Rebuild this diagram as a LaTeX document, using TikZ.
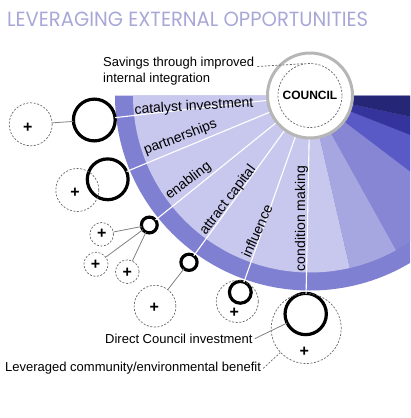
\documentclass[tikz,border=0pt]{standalone}
\usepackage{fontspec}
\setmainfont{Liberation Sans}
\newfontfamily\titlefont{Poppins}
\usepackage{graphicx}
\usepackage{xcolor}
\definecolor{lavender}{RGB}{200,200,238}
\definecolor{rimblue}{RGB}{128,128,210}
\definecolor{fanA}{RGB}{166,166,224}
\definecolor{fanB}{RGB}{134,134,213}
\definecolor{fanC}{RGB}{90,90,198}
\definecolor{fanD}{RGB}{52,52,156}
\definecolor{fanE}{RGB}{38,38,118}
\definecolor{titleblue}{RGB}{168,168,216}
\definecolor{rimgray}{RGB}{182,182,182}

\begin{document}
\begin{tikzpicture}[x=1pt, y=1pt]

        % Styles for the picture
        \tikzset{invest/.style={circle, draw=black, line width=3.2pt, inner sep=0pt, outer sep=0pt},
                 benefit/.style={circle, draw=black!60, dash pattern=on 2pt off 1.6pt, line width=0.7pt, inner sep=0pt},
                 plussign/.style={font=\bfseries\fontsize{16}{16}\selectfont, inner sep=0pt},
                 linkline/.style={draw=black!50, line width=0.8pt},
                 divider/.style={draw=white, line width=1.1pt},
                 sectorlabel/.style={font=\fontsize{14}{14}\selectfont, inner sep=0pt},
                 notelabel/.style={font=\fontsize{13}{16.5}\selectfont, inner sep=0pt, align=left}}

        \useasboundingbox (0,0) rectangle (410,-418);
        \clip (0,0) rectangle (410,-418);

        % Define the centre of the fan (council)
        \coordinate (O) at (310,-95.5);

        % 1. Title
        \node[anchor=south west, inner sep=0pt, text=titleblue] (title) at (7,-27.3)
            {\resizebox{361pt}{14.5pt}{\titlefont LEVERAGING EXTERNAL OPPORTUNITIES}};

        % 2. The fan: outer rim, then the sectors
        \fill[rimblue] (O) -- ++(180:195) arc[start angle=180, end angle=360, radius=195] -- cycle;
        \foreach \a/\b/\c in {180/283/lavender, 283/299.1/fanA, 299.1/322.8/fanB,
                              322.8/338.5/fanC, 338.5/348.1/fanD, 348.1/360/fanE}
            \fill[\c] (O) -- ++(\a:177) arc[start angle=\a, end angle=\b, radius=177] -- cycle;

        % 3. Direct Council investment (black circles)
        \node[invest, minimum size=41.8] (cat)  at (94.3,-120) {};
        \node[invest, minimum size=40.8] (part) at (107.7,-179.3) {};
        \node[invest, minimum size=15.8] (enab) at (149.3,-225) {};
        \node[invest, minimum size=16.2] (attr) at (189,-262.3) {};
        \node[invest, minimum size=21.8] (infl) at (240.3,-292.3) {};
        \node[invest, minimum size=41.3] (cond) at (305.7,-314) {};

        % 4. Leveraged benefit (dashed circles)
        \node[benefit, minimum size=43]   (catb)  at (30.7,-124.3) {};
        \node[benefit, minimum size=43]   (partb) at (77.3,-190) {};
        \node[benefit, minimum size=23.6] (enaba) at (101.7,-234.3) {};
        \node[benefit, minimum size=24.2] (enabb) at (96,-264.3) {};
        \node[benefit, minimum size=23.6] (enabc) at (127.3,-271.7) {};
        \node[benefit, minimum size=41.8] (attb)  at (155,-306.2) {};
        \node[benefit, minimum size=42]   (inflb) at (237.3,-301.5) {};
        \node[benefit, minimum size=70]   (condb) at (306.2,-328.5) {};

        \node[plussign] (catp)  at (27.7,-127.7) {+};
        \node[plussign] (partp) at (75,-193.3) {+};
        \node[plussign] (enpa)  at (101.7,-234.3) {+};
        \node[plussign] (enpb)  at (95.5,-264.8) {+};
        \node[plussign] (enpc)  at (127.3,-272.5) {+};
        \node[plussign] (attp)  at (154.3,-308.3) {+};
        \node[plussign] (inflp) at (234.3,-312.7) {+};
        \node[plussign] (condp) at (304.3,-352.3) {+};

        % 5. White dividers from the council out to each investment
        \foreach \n in {cat, part, enab, attr, infl, cond}
            \draw[divider] (O) -- (\n);

        % 6. Grey links investment -> benefit
        \draw[linkline] (cat) -- (catb);
        \draw[linkline] (enab) -- (enaba);
        \draw[linkline] (enab) -- (enabb);
        \draw[linkline] (enab) -- (enabc);
        \draw[linkline] (attr) -- (attb);

        % 7. Council
        \node[circle, draw=rimgray, line width=3pt, fill=white, minimum size=85, inner sep=0pt,
              font=\bfseries\fontsize{12}{12}\selectfont] (council) at (O) {COUNCIL};
        \node[benefit, minimum size=64] (saving) at (O) {};

        % 8. Sector labels
        \node[sectorlabel, rotate=3.5] (lcat)  at (194,-106.8) {catalyst investment};
        \node[sectorlabel, rotate=21]  (lpart) at (180.5,-137.5) {partnerships};
        \node[sectorlabel, rotate=37]  (lenab) at (188.5,-181) {enabling};
        \node[sectorlabel, rotate=53]  (lattr) at (228,-200.5) {attract capital};
        \node[sectorlabel, rotate=66]  (linfl) at (257,-231) {influence};
        \node[sectorlabel, rotate=90]  (lcond) at (301.5,-218.5) {condition making};

        % 9. Notes
        \node[notelabel, anchor=north west] (savings) at (103,-56.5)
            {Savings through improved\\internal integration};
        \draw[benefit] ([xshift=3pt,yshift=-10pt]savings.north east) -- (saving.100);

        \node[notelabel, anchor=base west] (dci) at (105,-343.3) {Direct Council investment};
        \draw[linkline] ([xshift=2pt]dci.east) -- (cond);

        \node[notelabel, anchor=base west] (lev) at (5,-371.7) {Leveraged community/environmental benefit};
        \draw[benefit] ([xshift=2pt]lev.east) -- (condb);

    \end{tikzpicture}
\end{document}
